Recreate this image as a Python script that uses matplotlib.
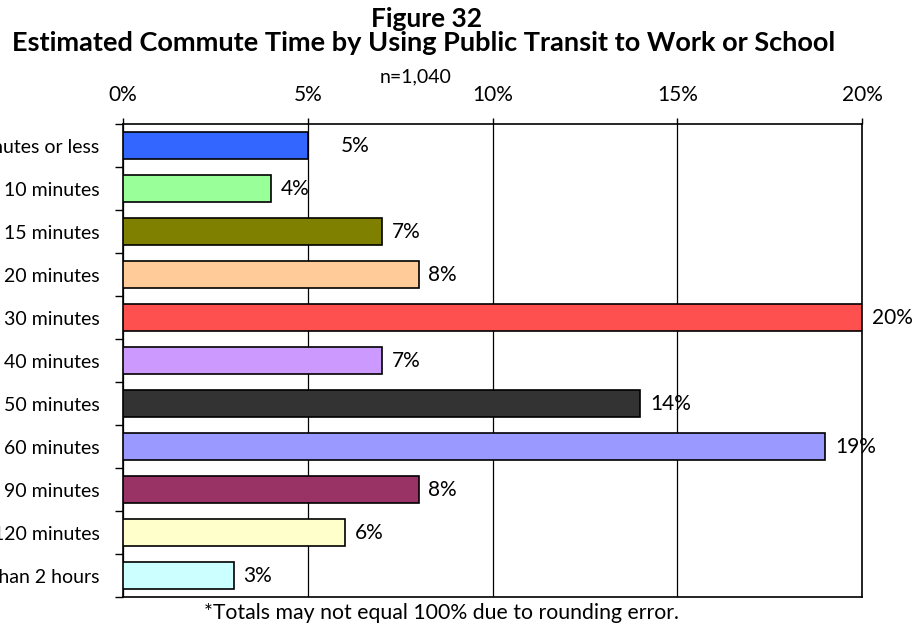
import numpy as np
import matplotlib.pyplot as plt
from matplotlib.ticker import FixedLocator, PercentFormatter

plt.rcParams['font.family'] = ['Lato', 'DejaVu Sans']

categories = ['5 minutes or less', '10 minutes', '15 minutes', '20 minutes',
              '30 minutes', '40 minutes', '50 minutes', '60 minutes',
              '90 minutes', '120 minutes', 'More than 2 hours']
shares = [5, 4, 7, 8, 20, 7, 14, 19, 8, 6, 3]
colors = ['#3366FF', '#99FF99', '#808000', '#FFCC99', '#FF5050', '#CC99FF',
          '#333333', '#9999FF', '#993366', '#FFFFCC', '#CCFFFF']

fig = plt.figure(figsize=(9.14, 6.36), dpi=100)
ax = fig.add_axes([0.1346, 0.0613, 0.8085, 0.7437])

y = np.arange(len(categories))
ax.barh(y, shares, height=0.65, color=colors, edgecolor='black',
        linewidth=1.2, zorder=3)

ax.set_xlim(0, 20)
ax.set_ylim(len(categories) - 0.5, -0.5)

# percent ticks on top, grid lines through the plot
ax.xaxis.tick_top()
ax.set_xticks([0, 5, 10, 15, 20])
ax.xaxis.set_major_formatter(PercentFormatter(decimals=0))
ax.tick_params(axis='x', length=4, width=1, pad=10, labelsize=15)
ax.grid(axis='x', color='black', linewidth=0.9, zorder=0)

# category labels centred, tick marks between categories
ax.set_yticks(y)
ax.set_yticklabels(categories)
ax.tick_params(axis='y', which='major', length=0, pad=17, labelsize=14)
ax.yaxis.set_minor_locator(FixedLocator(np.arange(-0.5, len(categories), 1)))
ax.tick_params(axis='y', which='minor', length=6, width=1, direction='out')

for s in ax.spines.values():
    s.set_linewidth(1.2)

for i, v in enumerate(shares):
    off = 24 if i == 0 else 7
    ax.annotate(f'{v}%', (v, i), xytext=(off, 0), textcoords='offset points',
                va='center', ha='left', fontsize=15)

fig.text(0.467, 0.970, 'Figure 32', ha='center', va='center',
         fontsize=19, fontweight='bold')
fig.text(0.464, 0.932, 'Estimated Commute Time by Using Public Transit to Work or School',
         ha='center', va='center', fontsize=19.5, fontweight='bold')
fig.text(0.455, 0.879, 'n=1,040', ha='center', va='center', fontsize=14)
fig.text(0.4825, 0.036, '*Totals may not equal 100% due to rounding error.',
         ha='center', va='center', fontsize=15.3)

fig.savefig('out.png', dpi=100)
